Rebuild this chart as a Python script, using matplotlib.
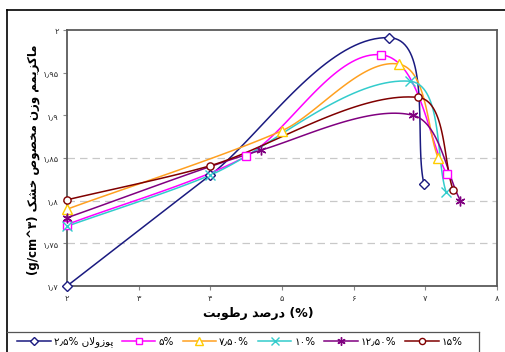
import numpy as np
import matplotlib
matplotlib.use("Agg")
import matplotlib.pyplot as plt
from matplotlib.lines import Line2D

# ---------------- data ----------------
series_labels = ["۲٫۵% پوزولان", "۵%", "۷٫۵۰%", "۱۰%", "۱۲٫۵۰%", "۱۵%"]
x_poz25 = [2.0, 4.0, 6.50, 6.98]
y_poz25 = [1.700, 1.830, 1.991, 1.820]
x_5 = [2.0, 4.50, 6.38, 7.30]
y_5 = [1.772, 1.852, 1.971, 1.831]
x_75 = [2.0, 5.00, 6.63, 7.18]
y_75 = [1.790, 1.882, 1.960, 1.850]
x_10 = [2.0, 4.0, 6.78, 7.29]
y_10 = [1.770, 1.830, 1.940, 1.810]
x_125 = [2.0, 4.70, 6.83, 7.49]
y_125 = [1.780, 1.859, 1.900, 1.800]
x_15 = [2.0, 4.0, 6.90, 7.39]
y_15 = [1.801, 1.841, 1.921, 1.812]

x_ticks = [2, 3, 4, 5, 6, 7, 8]
x_ticklabels = ["۲", "۳", "۴", "۵", "۶", "۷", "۸"]
y_ticks = [1.70, 1.75, 1.80, 1.85, 1.90, 1.95, 2.00]
y_ticklabels = ["۱٫۷", "۱٫۷۵", "۱٫۸", "۱٫۸۵", "۱٫۹", "۱٫۹۵", "۲"]
grid_values = [1.75, 1.80, 1.85]

y_title = "ماکزیمم وزن مخصوص خشک"
y_unit = "(g/cm^۳)"
x_title = "درصد رطوبت"
x_unit = "(%)"

# ---------------- Persian shaping (visual order) ----------------
FORMS = {
    'ا': (0xFE8D, 0xFE8E), 'د': (0xFEA9, 0xFEAA), 'ذ': (0xFEAB, 0xFEAC),
    'ر': (0xFEAD, 0xFEAE), 'ز': (0xFEAF, 0xFEB0), 'و': (0xFEED, 0xFEEE),
    'ژ': (0xFB8A, 0xFB8B),
    'ب': (0xFE8F, 0xFE90, 0xFE91, 0xFE92), 'ت': (0xFE95, 0xFE96, 0xFE97, 0xFE98),
    'ث': (0xFE99, 0xFE9A, 0xFE9B, 0xFE9C), 'ج': (0xFE9D, 0xFE9E, 0xFE9F, 0xFEA0),
    'ح': (0xFEA1, 0xFEA2, 0xFEA3, 0xFEA4), 'خ': (0xFEA5, 0xFEA6, 0xFEA7, 0xFEA8),
    'س': (0xFEB1, 0xFEB2, 0xFEB3, 0xFEB4), 'ش': (0xFEB5, 0xFEB6, 0xFEB7, 0xFEB8),
    'ص': (0xFEB9, 0xFEBA, 0xFEBB, 0xFEBC), 'ض': (0xFEBD, 0xFEBE, 0xFEBF, 0xFEC0),
    'ط': (0xFEC1, 0xFEC2, 0xFEC3, 0xFEC4), 'ظ': (0xFEC5, 0xFEC6, 0xFEC7, 0xFEC8),
    'ع': (0xFEC9, 0xFECA, 0xFECB, 0xFECC), 'غ': (0xFECD, 0xFECE, 0xFECF, 0xFED0),
    'ف': (0xFED1, 0xFED2, 0xFED3, 0xFED4), 'ق': (0xFED5, 0xFED6, 0xFED7, 0xFED8),
    'ل': (0xFEDD, 0xFEDE, 0xFEDF, 0xFEE0), 'م': (0xFEE1, 0xFEE2, 0xFEE3, 0xFEE4),
    'ن': (0xFEE5, 0xFEE6, 0xFEE7, 0xFEE8), 'ه': (0xFEE9, 0xFEEA, 0xFEEB, 0xFEEC),
    'ی': (0xFBFC, 0xFBFD, 0xFBFE, 0xFBFF), 'ک': (0xFB8E, 0xFB8F, 0xFB90, 0xFB91),
    'گ': (0xFB92, 0xFB93, 0xFB94, 0xFB95), 'پ': (0xFB56, 0xFB57, 0xFB58, 0xFB59),
    'چ': (0xFB7A, 0xFB7B, 0xFB7C, 0xFB7D),
}


def shape_word(word):
    chars = list(word)
    merged = []
    i = 0
    while i < len(chars):
        if chars[i] == 'ل' and i + 1 < len(chars) and chars[i + 1] == 'ا':
            merged.append('LA')
            i += 2
        else:
            merged.append(chars[i])
            i += 1
    out = []
    for i, c in enumerate(merged):
        prev = merged[i - 1] if i > 0 else None
        nxt = merged[i + 1] if i + 1 < len(merged) else None
        joins_prev = prev is not None and prev in FORMS and len(FORMS[prev]) == 4
        if c == 'LA':
            out.append(chr(0xFEFC if joins_prev else 0xFEFB))
            continue
        if c not in FORMS:
            out.append(c)
            continue
        f = FORMS[c]
        joins_next = len(f) == 4 and nxt is not None and (nxt in FORMS or nxt == 'LA')
        if joins_prev and joins_next:
            out.append(chr(f[3]))
        elif joins_prev:
            out.append(chr(f[1]))
        elif joins_next:
            out.append(chr(f[2]))
        else:
            out.append(chr(f[0]))
    return ''.join(out)


def visual(text):
    words = text.split(' ')
    return ' '.join(shape_word(w)[::-1] for w in words[::-1])


# axes geometry in pixels
W, H = 505, 352
AX_L, AX_R, AX_T, AX_B = 67, 497, 30, 286
SX = (AX_R - AX_L) / 6.0
SY = (AX_B - AX_T) / 0.3


def excel_smooth(xs, ys, n=40):
    # Bezier smoothing computed in screen space, control arms scaled by segment lengths
    P = np.column_stack([np.asarray(xs) * SX, np.asarray(ys) * SY]).astype(float)
    m = len(P)
    seg = np.linalg.norm(np.diff(P, axis=0), axis=1)
    t = np.linspace(0, 1, n)[:, None]
    out = []
    for i in range(m - 1):
        p1, p2 = P[i], P[i + 1]
        p0 = P[i - 1] if i > 0 else P[i]
        p3 = P[i + 2] if i + 2 < m else P[i + 1]
        d1 = p2 - p0
        d2 = p3 - p1
        n1 = np.linalg.norm(d1)
        n2 = np.linalg.norm(d2)
        L = seg[i]
        c1 = p1 + (d1 / n1 * L / 3.0 if n1 > 0 else 0) * 0.85
        c2 = p2 - (d2 / n2 * L / 3.0 if n2 > 0 else 0) * 0.85
        b = ((1 - t) ** 3) * p1 + 3 * ((1 - t) ** 2) * t * c1 + 3 * (1 - t) * t ** 2 * c2 + t ** 3 * p2
        out.append(b if i == 0 else b[1:])
    B = np.vstack(out)
    return B[:, 0] / SX, B[:, 1] / SY


# ---------------- figure ----------------
plt.rcParams['font.family'] = ['DejaVu Sans']
fig = plt.figure(figsize=(W / 100, H / 100), dpi=100)
fig.patch.set_facecolor('white')

ax = fig.add_axes([AX_L / W, 1 - AX_B / H, (AX_R - AX_L) / W, (AX_B - AX_T) / H])
ax.set_xlim(2, 8)
ax.set_ylim(1.7, 2.0)

for g in grid_values:
    ax.axhline(g, color='#c8c8c8', lw=0.9, ls=(0, (6, 4)), zorder=0)

styles = [
    dict(color='#1a1a80', marker='D', ms=4.8, mec='#1a1a80', mfc='white'),
    dict(color='#ff00ff', marker='s', ms=5.2, mec='#ff00ff', mfc='white'),
    dict(color='#ffa020', marker='^', ms=7.5, mec='#ffcc00', mfc='white'),
    dict(color='#33cccc', marker='x', ms=7, mec='#33cccc', mfc='none'),
    dict(color='#800080', marker=(6, 2, 0), ms=7, mec='#800080', mfc='none'),
    dict(color='#800000', marker='o', ms=5.2, mec='#800000', mfc='white'),
]
data = [(x_poz25, y_poz25), (x_5, y_5), (x_75, y_75), (x_10, y_10), (x_125, y_125), (x_15, y_15)]

handles = []
for (xs, ys), st in zip(data, styles):
    cx, cy = excel_smooth(xs, ys)
    ax.plot(cx, cy, color=st['color'], lw=1.1, zorder=2, clip_on=False)
    ax.plot(xs, ys, ls='none', marker=st['marker'], ms=st['ms'], mec=st['mec'],
            mfc=st['mfc'], mew=1.0, zorder=3, clip_on=False)
    handles.append(Line2D([], [], color=st['color'], lw=1.1, marker=st['marker'],
                          ms=st['ms'] * 0.85, mec=st['mec'], mfc=st['mfc'], mew=1.0))

for s in ax.spines.values():
    s.set_color('#5a5a5a')
    s.set_linewidth(1.3)

ax.set_xticks(x_ticks)
ax.set_xticklabels(x_ticklabels)
ax.set_yticks(y_ticks)
ax.set_yticklabels(y_ticklabels)
ax.tick_params(axis='both', direction='out', length=3, width=0.8, color='#888888',
               labelsize=6, labelcolor='#333333')
ax.tick_params(axis='x', pad=3)
ax.tick_params(axis='y', pad=3)

# axis titles
fig.text(33 / W, 1 - 160 / H, y_unit + ' ' + visual(y_title), rotation=90,
         ha='center', va='center', fontsize=8.5, fontweight='bold')
fig.text(258 / W, 1 - 313 / H, visual(x_title) + ' ' + x_unit,
         ha='center', va='center', fontsize=9, fontweight='bold')

# legend labels in visual order
leg_labels = []
for lab in series_labels:
    parts = lab.split(' ')
    if len(parts) > 1:
        leg_labels.append(parts[0] + ' ' + visual(' '.join(parts[1:])))
    else:
        leg_labels.append(lab)

fig.legend(handles, leg_labels, loc='center', bbox_to_anchor=(240 / W, 1 - 342 / H),
           ncol=6, frameon=False, fontsize=7.5, handlelength=3.2,
           handletextpad=0.3, columnspacing=0.85, borderpad=0.0)

# outer chart border and legend box
fig.add_artist(Line2D([7 / W, 7 / W], [0, 1 - 10 / H], color='black', lw=1.2))
fig.add_artist(Line2D([7 / W, 1], [1 - 10 / H, 1 - 10 / H], color='black', lw=1.2))
fig.add_artist(Line2D([7 / W, 479 / W], [1 - 332 / H, 1 - 332 / H], color='#555555', lw=0.9))
fig.add_artist(Line2D([479 / W, 479 / W], [0, 1 - 332 / H], color='#555555', lw=0.9))

fig.savefig('out.png', dpi=100)
